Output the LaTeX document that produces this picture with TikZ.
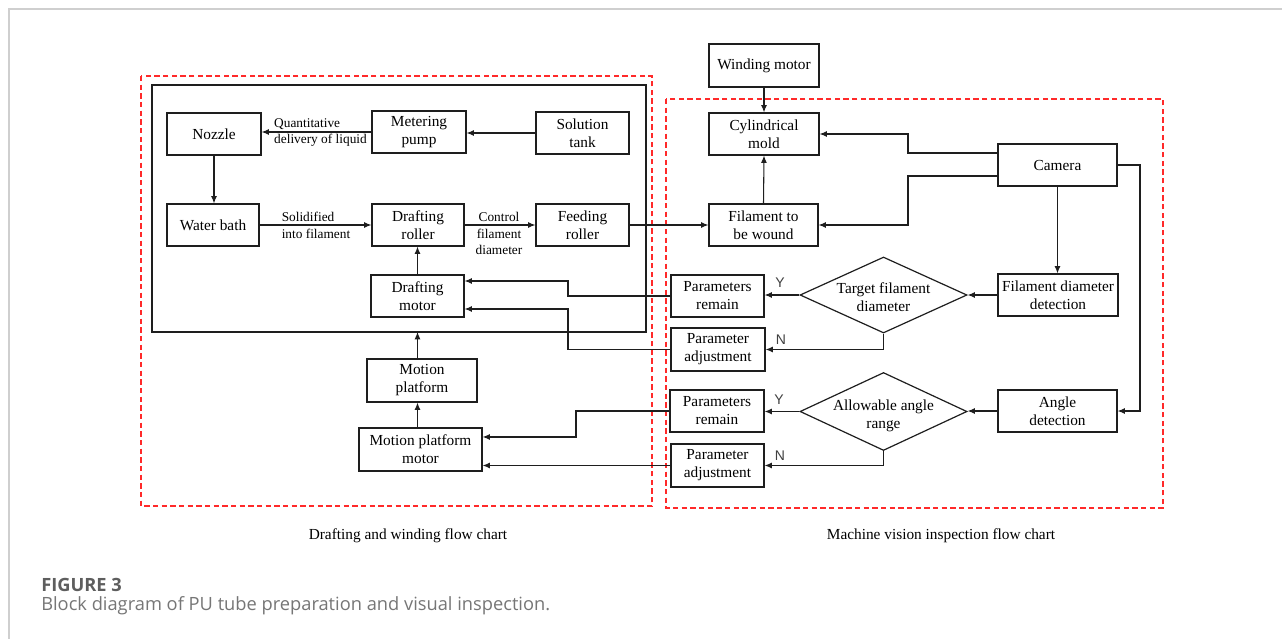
\documentclass[tikz,border=0pt]{standalone}
\usepackage{fontspec}
\setmainfont{Liberation Serif}
\newfontfamily\ynfont{Liberation Sans}
\newfontfamily\capfont{Open Sans}
\usetikzlibrary{arrows.meta,shapes.geometric}
\definecolor{framegray}{HTML}{CFCFCF}
\definecolor{dashred}{HTML}{FF2A2A}
\definecolor{capgray}{HTML}{5E5E5E}
\definecolor{linecol}{HTML}{1E1E1E}
\begin{document}
\begin{tikzpicture}[x=0.75pt,y=-0.75pt,
  blk/.style 2 args={draw=linecol, line width=0.9pt, rectangle, minimum width=#1*0.75pt, minimum height=#2*0.75pt, inner sep=0pt, align=center, font=\fontsize{11.5}{13.5}\selectfont},
  dia/.style 2 args={draw=linecol, line width=0.9pt, diamond, minimum width=#1*0.75pt, minimum height=#2*0.75pt, inner sep=0pt},
  dtxt/.style={inner sep=0pt, align=center, font=\fontsize{11.5}{13.5}\selectfont},
  arr/.style={draw=linecol, line width=0.8pt, -{Latex[length=5.5pt,width=4.5pt]}},
  lbl/.style={font=\fontsize{10}{12.5}\selectfont, inner sep=0pt},
  yn/.style={font=\ynfont\fontsize{10.5}{12}\selectfont, text=black!75, inner sep=0pt},
  reddash/.style={draw=dashred, line width=0.9pt, dash pattern=on 4pt off 2.5pt},
  chartcap/.style={font=\fontsize{11.5}{13}\selectfont, inner sep=0pt}
]
\useasboundingbox (0,0) rectangle (1282,639);
\fill[white] (0,0) rectangle (1282,639);
% frame
\draw[framegray, line width=1.2pt] (9,639) -- (9,9) -- (1282,9);
% group frames
\draw[reddash] (141,76) rectangle (652,506);
\draw[reddash] (666,99) rectangle (1163,508);
\draw[draw=linecol, line width=0.9pt] (152,85) rectangle (646,332);

% left blocks
\node[blk={94}{42}] (noz) at (214,134) {Nozzle};
\node[blk={94}{42}] (mp) at (419,132) {Metering\\pump};
\node[blk={93}{42}] (st) at (582.5,133) {Solution\\tank};
\node[blk={92}{42}] (wb) at (213,225) {Water bath};
\node[blk={92}{42}] (dr) at (418,225) {Drafting\\roller};
\node[blk={93}{42}] (fr) at (582.5,225) {Feeding\\roller};
\node[blk={93}{42}] (dm) at (417.5,296) {Drafting\\motor};
\node[blk={110}{43}] (mpl) at (422,380.5) {Motion\\platform};
\node[blk={123}{43}] (mpm) at (420.5,449.5) {Motion platform\\motor};

% right blocks
\node[blk={110}{43}] (wm) at (764,65.5) {Winding motor};
\node[blk={110}{42}] (cm) at (764,134) {Cylindrical\\mold};
\node[blk={109}{42}] (fw) at (763.5,225) {Filament to\\be wound};
\node[blk={119}{42}] (cam) at (1057.5,165) {Camera};
\node[blk={120}{42}] (fdd) at (1058,295) {Filament diameter\\detection};
\node[blk={119}{42}] (ad) at (1057.5,411) {Angle\\detection};
\node[blk={93}{42}] (pr1) at (717.5,296) {Parameters\\remain};
\node[blk={94}{43}] (pa1) at (718,349.5) {Parameter\\adjustment};
\node[blk={94}{42}] (pr2) at (717,411) {Parameters\\remain};
\node[blk={93}{43}] (pa2) at (717.5,465.5) {Parameter\\adjustment};
\node[dia={167}{76}] (d1) at (883.5,295) {};
\node[dia={167}{78}] (d2) at (883.5,411.5) {};
\node[dtxt] (d1t) at (883.5,297.5) {Target filament\\diameter};
\node[dtxt] (d2t) at (883.5,416) {Allowable angle\\range};

% helper coordinates
\coordinate (cj) at (908,160);
\coordinate (cr) at (1140,165);
\coordinate (lx1) at (568,300);
\coordinate (lx2) at (576,420);
\coordinate (ib) at (417.5,332);

% connectors left
\draw[arr] (st.west) -- (st.west -| mp.east);
\draw[arr] (mp.west) -- (mp.west -| noz.east);
\draw[arr] (noz.south) -- (noz.south |- wb.north);
\draw[arr] (wb.east) -- (dr.west);
\draw[arr] (dr.east) -- (fr.west);
\draw[arr] (fr.east) -- (fw.west);
\draw[arr] (dm.north) -- (dm.north |- dr.south);
\draw[arr] (mpl.north -| ib) -- (ib);
\draw[arr] (mpm.north -| ib) -- (mpl.south -| ib);

% connectors right
\draw[arr] (wm.south) -- (cm.north);
\draw[arr] (fw.north) -- (cm.south);
\draw[arr] ([yshift=9pt]cam.west) -- ([yshift=9pt]cam.west -| cj) |- (cm.east);
\draw[arr] ([yshift=-8.25pt]cam.west) -- ([yshift=-8.25pt]cam.west -| cj) |- (fw.east);
\draw[arr] (cam.south) -- (cam.south |- fdd.north);
\draw[arr] (cam.east) -- (cam.east -| cr) |- (ad.east);
\draw[arr] (fdd.west) -- (fdd.west -| d1.east);
\draw[arr] (d1.west) -- (d1.west -| pr1.east);
\draw[arr] (d1.south) |- (pa1.east);
\draw[arr] (ad.west) -- (ad.west -| d2.east);
\draw[arr] (d2.west) -- (d2.west -| pr2.east);
\draw[arr] (d2.south) |- (pa2.east);

% feedback
\draw[arr] (pr1.west) -- (pr1.west -| lx1) |- ([yshift=11.25pt]dm.east);
\draw[arr] (pa1.west) -- (pa1.west -| lx1) |- ([yshift=-9.75pt]dm.east);
\draw[arr] (pr2.west) -- (pr2.west -| lx2) |- ([yshift=9.4pt]mpm.east);
\draw[arr] (pa2.west) -- (pa2.west -| mpm.east);

% edge labels
\node[lbl, align=left] (lq) at (320.5,132.5) {Quantitative\\delivery of liquid};
\node[lbl, align=left] (ls) at (316,225.5) {Solidified\\into filament};
\node[lbl, align=center] (lc) at (499,233.5) {Control\\filament\\diameter};
\node[yn] (y1) at (780,283) {Y};
\node[yn] (n1) at (781,340) {N};
\node[yn] (y2) at (779,400) {Y};
\node[yn] (n2) at (780,456) {N};

% captions
\node[chartcap] (c1) at (408,536) {Drafting and winding flow chart};
\node[chartcap] (c2) at (941,536) {Machine vision inspection flow chart};
\node[anchor=west, inner sep=0pt, text=capgray, font=\capfont\bfseries\fontsize{13.7}{16}\selectfont] (fig) at (41,585) {FIGURE 3};
\node[anchor=west, inner sep=0pt, text=capgray!85, font=\capfont\fontsize{13.7}{16}\selectfont] (figcap) at (41,606) {Block diagram of PU tube preparation and visual inspection.};
\end{tikzpicture}
\end{document}
